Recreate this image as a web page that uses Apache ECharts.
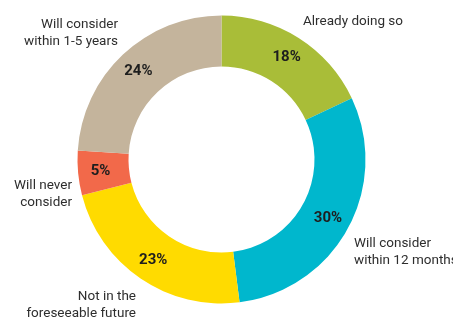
<!DOCTYPE html>
<html>
<head>
<meta charset="utf-8">
<script src="https://cdn.jsdelivr.net/npm/echarts@6/dist/echarts.min.js"></script>
<style>
  html, body { margin: 0; padding: 0; background: #fff; }
  #chart { width: 453px; height: 320px; }
</style>
</head>
<body>
<div id="chart"></div>
<script>
'use strict';

// data
var categories = [
    'Already doing so',
    'Will consider\nwithin 12 months',
    'Not in the\nforeseeable future',
    'Will never\nconsider',
    'Will consider\nwithin 1-5 years'
];
var shares = [18, 30, 23, 5, 24];
var sliceColors = ['#a9bd38', '#00b7cd', '#ffdb00', '#f2694a', '#c4b49c'];

// where the category names sit [x, y, align]
var namePlaces = [
    [303, 22, 'left'],
    [354, 252, 'left'],
    [136, 305, 'right'],
    [72, 194, 'right'],
    [118, 33, 'right']
];

var labelFont = "'Liberation Sans Narrow', Roboto, sans-serif";

function makeData(colored) {
    return categories.map(function(name, i) {
        return {
            name: name,
            value: shares[i],
            itemStyle: { color: colored ? sliceColors[i] : 'rgba(0,0,0,0)' }
        };
    });
}

var chart = echarts.init(document.getElementById('chart'));

chart.setOption({
    animation: false,
    series: [
        {
            name: 'share',
            type: 'pie',
            center: [221.5, 159.5],
            radius: [93, 144],
            startAngle: 90,
            clockwise: true,
            label: {
                show: true,
                position: 'inside',
                formatter: '{c}%',
                color: '#1e1e1e',
                fontFamily: labelFont,
                fontWeight: 'bold',
                fontSize: 15
            },
            labelLine: { show: false },
            emphasis: { disabled: true },
            data: makeData(true)
        },
        {
            name: 'names',
            type: 'pie',
            center: [221.5, 159.5],
            radius: [93, 144],
            startAngle: 90,
            silent: true,
            label: {
                show: true,
                position: 'outside',
                formatter: '{b}',
                overflow: 'none',
                color: '#2e2e2e',
                fontFamily: labelFont,
                fontSize: 13.5,
                lineHeight: 17
            },
            labelLine: { show: false },
            labelLayout: function(params) {
                var p = namePlaces[params.dataIndex];
                return { x: p[0], y: p[1], align: p[2], verticalAlign: 'middle' };
            },
            emphasis: { disabled: true },
            data: makeData(false)
        }
    ]
});
</script>
</body>
</html>
